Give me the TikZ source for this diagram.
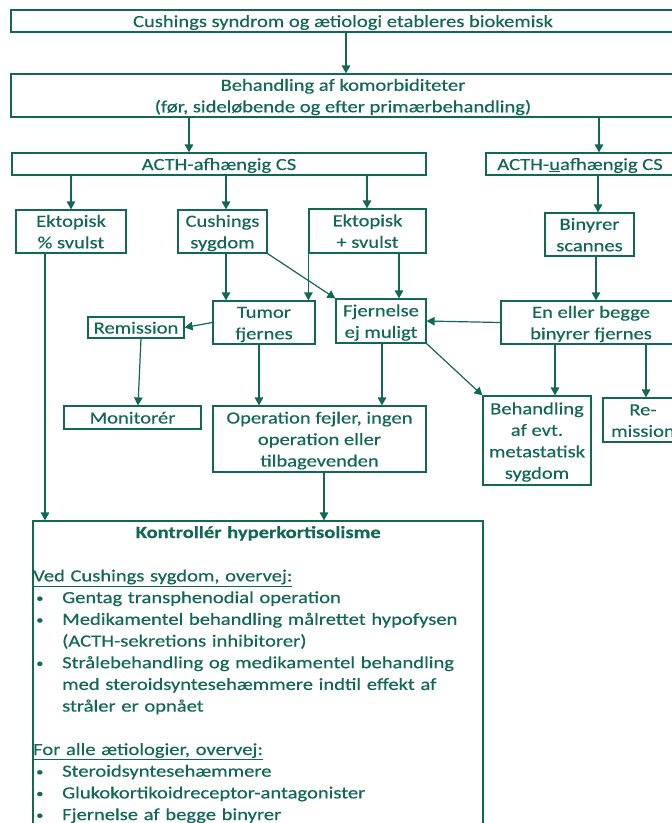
\documentclass[tikz,border=0pt]{standalone}
\usepackage{fontspec}
\setmainfont{Carlito}[FakeStretch=1.21, UprightFeatures={FakeBold=0.4}, BoldFeatures={FakeBold=0.4}]
\usetikzlibrary{arrows.meta}
\definecolor{tl}{RGB}{18,104,86}
\newcommand\myfs{\fontsize{17}{21.5}\selectfont}
\newcommand\myitem[1]{{\leftskip=29pt\noindent\hspace*{-29pt}\makebox[29pt][l]{\hspace{3pt}\raisebox{1pt}{\fontsize{12}{12}\selectfont •}}#1\par}}
\tikzset{
  bx/.style={draw=tl, line width=1.2pt, text=tl, inner sep=0pt, align=center, font=\myfs},
  arr/.style={draw=tl, line width=1.2pt, -{Triangle[length=8pt,width=8.5pt]}},
}
\newcommand\bx[6]{\node[bx, minimum width={#4-#2}, minimum height={#5-#3}] (#1) at ({(#2+#4)/2},{(#3+#5)/2}) {\rule{0pt}{15pt}#6\rule[-3pt]{0pt}{3pt}};}
\begin{document}
\begin{tikzpicture}[x=1pt,y=-1pt]
\useasboundingbox (0,0) rectangle (672,823);
\clip (0,0) rectangle (672,823);
\fill[white] (0,0) rectangle (672,823);
\bx{b1}{11}{10}{675}{32}{Cushings syndrom og ætiologi etableres biokemisk}
\bx{b2}{11}{74}{675}{117}{Behandling af komorbiditeter\\(før, sideløbende og efter primærbehandling)}
\bx{b3}{12}{153}{426}{175}{ACTH-afhængig CS}
\bx{b4}{486}{153}{674}{175}{ACTH-\underline{u}afhængig CS}
\bx{b5}{16}{210}{126}{253}{Ektopisk\\\% svulst}
\bx{b6}{178}{210}{267}{253}{Cushings\\sygdom}
\bx{b7}{309}{209}{426}{253}{Ektopisk\\+ svulst}
\bx{b8}{545}{213}{634}{256}{Binyrer\\scannes}
\bx{b9}{213}{301}{315}{344}{Tumor\\fjernes}
\bx{b10}{336}{299}{426}{343}{Fjernelse\\ej muligt}
\bx{b11}{501}{301}{681}{344}{En eller begge\\binyrer fjernes}
\bx{b12}{88}{317}{184}{338}{Remission}
\bx{b13}{64}{406}{201}{429}{Monitorér}
\bx{b14}{213}{406}{426}{472}{Operation fejler, ingen\\operation eller\\tilbagevenden}
\bx{b15}{483}{396}{591}{485}{Behandling\\af evt.\\metastatisk\\sygdom}
\bx{b16}{603}{398}{683}{442}{Re-\\mission}
\bx{b17}{33}{521}{483}{900}{}
\node[anchor=base west, inner sep=0pt, text width=450pt, text=tl, font=\fontsize{17}{21.7}\selectfont] (kc) at (33,538) {%
\centering\textbf{Kontrollér hyperkortisolisme}\par
\raggedright
\mbox{}\par
\underline{Ved Cushings sygdom, overvej:}\par
\myitem{Gentag transphenodial operation}
\myitem{Medikamentel behandling målrettet hypofysen\\(ACTH-sekretions inhibitorer)}
\myitem{Strålebehandling og medikamentel behandling\\med steroidsyntesehæmmere indtil effekt af\\stråler er opnået}
\mbox{}\par
\underline{For alle ætiologier, overvej:}\par
\myitem{Steroidsyntesehæmmere}
\myitem{Glukokortikoidreceptor-antagonister}
\myitem{Fjernelse af begge binyrer}
};
% connectors
\draw[arr] (b1.south -| 346,0) -- (b2.north -| 346,0);
\draw[arr] (b2.south -| 189,0) -- (b3.north -| 189,0);
\draw[arr] (b2.south -| 599,0) -- (b4.north -| 599,0);
\draw[arr] (b3.south -| 71,0) -- (b5.north -| 71,0);
\draw[arr] (b3.south -| 226,0) -- (b6.north -| 226,0);
\draw[arr] (b3.south -| 367,0) -- (b7.north -| 367,0);
\draw[arr] (b4.south -| 598,0) -- (b8.north -| 598,0);
\draw[arr] (b5.south -| 45,0) -- (b17.north -| 45,0);
\draw[arr] (b6.south -| 226,0) -- (b9.north -| 226,0);
\draw[arr] (b7.south west) -- (b9.north -| b7.south west);
\draw[arr] (b7.south -| 399,0) -- (b10.north -| 399,0);
\draw[arr] (b6.south east) -- (b10.north west);
\draw[arr] (b11.west) -- (b10.east);
\draw[arr] (b8.south -| 596,0) -- (b11.north -| 596,0);
\draw[arr] (b9.west) -- (b12.east);
\draw[arr] (b12.south -| 141,0) -- (b13.north -| 138,0);
\draw[arr] (b9.south -| 259,0) -- (b14.north -| 259,0);
\draw[arr] (b10.south -| 382,0) -- (b14.north -| 382,0);
\draw[arr] (b10.south east) -- (b15.north west);
\draw[arr] (b11.south -| 555,0) -- (b15.north -| 555,0);
\draw[arr] (b11.south -| 646,0) -- (b16.north -| 646,0);
\draw[arr] (b14.south -| 324,0) -- (b17.north -| 324,0);
\end{tikzpicture}
\end{document}
